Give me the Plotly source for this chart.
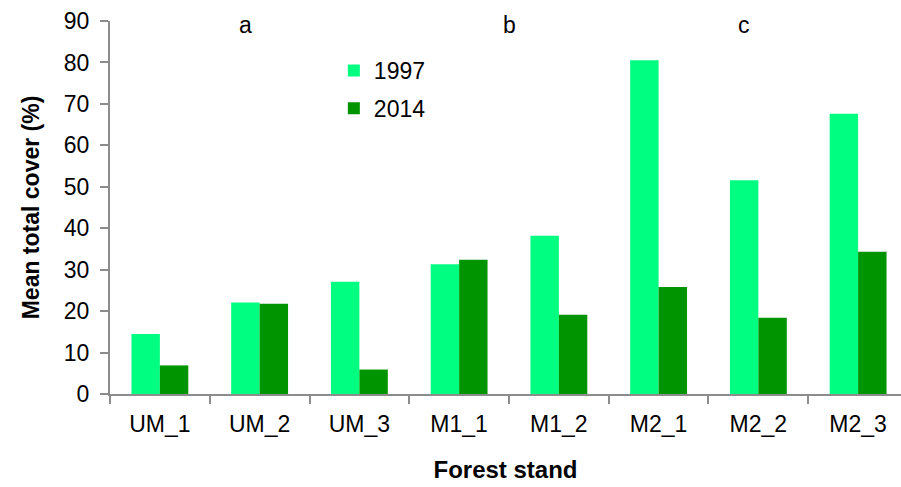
import plotly.graph_objects as go

stands = ["UM_1", "UM_2", "UM_3", "M1_1", "M1_2", "M2_1", "M2_2", "M2_3"]
cover_1997 = [14.5, 22.1, 27.1, 31.3, 38.2, 80.5, 51.6, 67.6]
cover_2014 = [6.9, 21.8, 5.9, 32.4, 19.1, 25.8, 18.4, 34.3]
group_labels = ["a", "b", "c"]
group_positions = [0.86, 3.51, 5.86]

FONT = "Liberation Sans, Arial, sans-serif"
AXIS_GREY = "#8c8c8c"

fig = go.Figure()
fig.add_trace(go.Bar(x=stands, y=cover_1997, name="1997", legendgroup="g1997",
                     marker=dict(color="#00ff80", line=dict(width=0))))
fig.add_trace(go.Bar(x=stands, y=cover_2014, name="2014", legendgroup="g2014",
                     marker=dict(color="#009400", line=dict(width=0))))

for lab, pos in zip(group_labels, group_positions):
    fig.add_annotation(x=pos, y=89, xref="x", yref="y", text=lab,
                       showarrow=False, font=dict(size=23, color="black", family=FONT))

fig.update_layout(
    width=901, height=487,
    margin=dict(l=110, r=0, t=21, b=93),
    paper_bgcolor="white", plot_bgcolor="white",
    barmode="group", bargap=0.43, bargroupgap=0,
    font=dict(family=FONT, size=23, color="black"),
    showlegend=True,
    legend=dict(x=0.283, y=0.925, xanchor="left", yanchor="top",
                bgcolor="rgba(0,0,0,0)", font=dict(size=23),
                itemwidth=30, tracegroupgap=5),
    xaxis=dict(
        type="category", range=[-0.5, 7.43],
        showline=True, linecolor=AXIS_GREY, linewidth=2,
        ticks="outside", tickson="boundaries", ticklen=8, tickwidth=2,
        tickcolor=AXIS_GREY, showgrid=False, zeroline=False,
        tickfont=dict(size=23, family=FONT), ticklabelstandoff=8,
        title=dict(text="<b>Forest stand</b>", font=dict(size=24, family=FONT), standoff=26),
    ),
    yaxis=dict(
        range=[0, 90], dtick=10,
        showline=True, linecolor=AXIS_GREY, linewidth=2,
        ticks="outside", ticklen=8, tickwidth=2, tickcolor=AXIS_GREY,
        showgrid=False, zeroline=False,
        tickfont=dict(size=23, family=FONT), ticklabelstandoff=6,
        title=dict(text="<b>Mean total cover (%)</b>", font=dict(size=23, family=FONT), standoff=18),
    ),
)

fig.write_html("out.html")
